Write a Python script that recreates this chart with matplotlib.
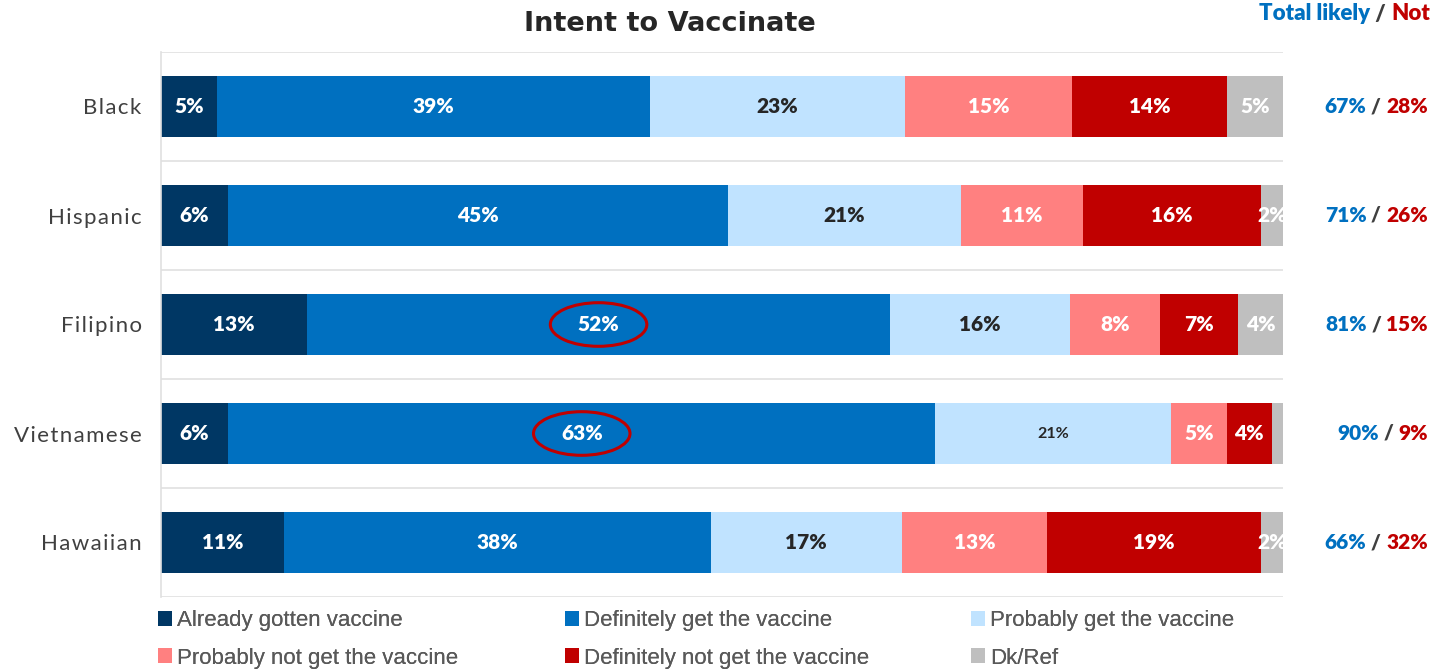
import numpy as np
import matplotlib.pyplot as plt
from matplotlib.patches import Patch, Ellipse

groups = ['Black', 'Hispanic', 'Filipino', 'Vietnamese', 'Hawaiian']
already = [5, 6, 13, 6, 11]
definitely = [39, 45, 52, 63, 38]
probably = [23, 21, 16, 21, 17]
prob_not = [15, 11, 8, 5, 13]
def_not = [14, 16, 7, 4, 19]
dkref = [5, 2, 4, 1, 2]
total_likely = [67, 71, 81, 90, 66]
total_not = [28, 26, 15, 9, 32]

names = ['Already gotten vaccine', 'Definitely get the vaccine', 'Probably get the vaccine',
         'Probably not get the vaccine', 'Definitely not get the vaccine', 'Dk/Ref']
cols = ['#003764', '#0070C0', '#C0E3FF', '#FF8080', '#C00000', '#BFBFBF']
txtcol = ['white', 'white', '#262626', 'white', 'white', 'white']
BLUE = '#0070C0'
RED = '#C00000'

plt.rcParams['font.family'] = ['Lato', 'DejaVu Sans']

fig = plt.figure(figsize=(14.33, 6.7), dpi=100)
ax = fig.add_axes([161/1433, 1-597/670, (1283-161)/1433, (597-52)/670])

data = np.array([already, definitely, probably, prob_not, def_not, dkref], dtype=float)
widths = data / data.sum(axis=0) * 100
y = np.arange(len(groups))
left = np.zeros(len(groups))
for k in range(6):
    ax.barh(y, widths[k], left=left, height=0.56, color=cols[k], edgecolor='none')
    for i in range(len(groups)):
        v = int(data[k, i])
        if v < 2:
            continue
        cx = left[i] + widths[k, i] / 2
        if groups[i] == 'Vietnamese' and k == 2:
            ax.text(cx, i, '%d%%' % v, ha='center', va='center', color=txtcol[k],
                    fontsize=11.5, fontweight='bold', clip_on=True)
        else:
            ax.text(cx, i, '%d%%' % v, ha='center', va='center', color=txtcol[k],
                    fontsize=15, fontweight='heavy', clip_on=True)
    left += widths[k]

# red circles on two labels
for i in [2, 3]:
    cx = widths[0, i] + widths[1, i] / 2
    ax.add_patch(Ellipse((cx, i), 8.6, 0.40, fill=False, edgecolor='#C00000', lw=2.2))

ax.set_xlim(0, 100)
ax.set_ylim(4.5, -0.5)
for g in np.arange(-0.5, 5, 1):
    ax.axhline(g, color='#E0E0E0', lw=1.2, zorder=0)
for s in ['top', 'right', 'bottom']:
    ax.spines[s].set_visible(False)
ax.spines['left'].set_color('#E0E0E0')
ax.spines['left'].set_linewidth(1.2)
ax.set_xticks([])
ax.set_yticks(y)
# letter spaced category names
spaced = ['\u200a'.join(g) for g in groups]
ax.set_yticklabels(spaced, fontsize=16, color='#404040')
ax.tick_params(axis='y', length=0, pad=14)

fig.text(670/1433, 1-24/670, 'Intent to Vaccinate', ha='center', va='center',
         fontsize=19.5, fontweight='bold', color='#262626', family='DejaVu Sans')

# header
t = fig.text(1430/1433, 1-14/670, 'Not', ha='right', va='center', color=RED,
             fontsize=16, fontweight='heavy')
t = plt.annotate(' / ', xy=(0, 0.5), xycoords=t, ha='right', va='center', color='#404040',
                 fontsize=16, fontweight='heavy')
plt.annotate('Total likely', xy=(0, 0.5), xycoords=t, ha='right', va='center', color=BLUE,
             fontsize=16, fontweight='heavy')

# totals per row
for i in range(len(groups)):
    yy = ax.transData.transform((0, i))[1] / 670
    t = fig.text(1428/1433, yy, '%d%%' % total_not[i], ha='right', va='center', color=RED,
                 fontsize=15, fontweight='heavy')
    t = plt.annotate(' / ', xy=(0, 0.5), xycoords=t, ha='right', va='center', color='#404040',
                     fontsize=15, fontweight='heavy')
    plt.annotate('%d%%' % total_likely[i], xy=(0, 0.5), xycoords=t, ha='right', va='center',
                 color=BLUE, fontsize=15, fontweight='heavy')

# legend, three columns
colx = [158, 565, 971]
for c in range(3):
    hs = [Patch(facecolor=cols[c], edgecolor='none'), Patch(facecolor=cols[c + 3], edgecolor='none')]
    lg = fig.legend(hs, [names[c], names[c + 3]], loc='upper left',
                    bbox_to_anchor=(colx[c]/1433, 1-610/670), frameon=False,
                    prop={'family': 'Liberation Sans', 'size': 16},
                    labelcolor='#595959', handlelength=0.65, handleheight=0.65,
                    handletextpad=0.2, labelspacing=0.75, borderaxespad=0, borderpad=0)
    fig.add_artist(lg)

fig.savefig('out.png', dpi=100)
